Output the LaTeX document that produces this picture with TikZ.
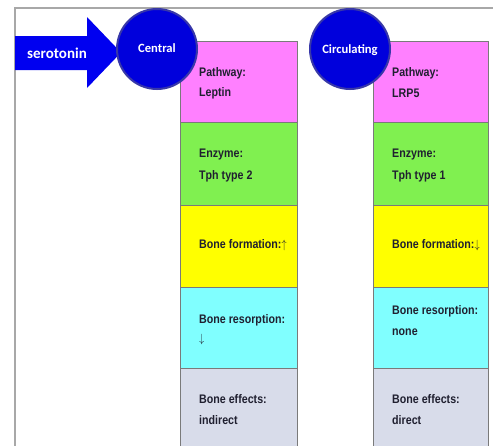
\documentclass[tikz,border=0pt]{standalone}
\usepackage{fontspec}
\usepackage{graphicx}
\setmainfont{Carlito}
\newfontfamily\boxfont{Liberation Sans}
\newcommand{\bxt}[1]{\scalebox{0.86}[1]{#1}}
\definecolor{pinkc}{HTML}{FF80FF}
\definecolor{greenc}{HTML}{80F050}
\definecolor{yellowc}{HTML}{FFFF00}
\definecolor{cyanc}{HTML}{80FFFF}
\definecolor{grayc}{HTML}{D8DCEA}
\definecolor{txt}{HTML}{202030}
\definecolor{cellborder}{HTML}{7A7A7A}
\definecolor{frame}{HTML}{A8A8A8}
\definecolor{arrowblue}{HTML}{0000F0}
\definecolor{circblue}{HTML}{0000DC}
\definecolor{ringblue}{HTML}{3838A8}
\begin{document}
\begin{tikzpicture}[x=1pt,y=-1pt,
  cell/.style={draw=cellborder, line width=0.9pt, inner sep=0pt, anchor=north west},
  lbl/.style={anchor=west, inner sep=0pt, text=txt, font=\boxfont\bfseries\fontsize{12.4}{14}\selectfont},
  blob/.style={circle, fill=circblue, draw=ringblue, line width=2pt, minimum size=80pt, inner sep=0pt},
  blobtext/.style={text=white, inner sep=0pt, font=\bfseries\fontsize{12.6}{14}\selectfont}]
\clip (0,0) rectangle (493,445);
\fill[white] (0,0) rectangle (493,445);
% outer frame
\draw[frame, line width=1.4pt] (15,450) -- (15,8) -- (500,8);
% left column
\node[cell, fill=pinkc,   minimum width=117pt, minimum height=81pt] (lp) at (180,41) {};
\node[cell, fill=greenc,  minimum width=117pt, minimum height=83pt] (lg) at (180,122) {};
\node[cell, fill=yellowc, minimum width=117pt, minimum height=82pt] (ly) at (180,205) {};
\node[cell, fill=cyanc,   minimum width=117pt, minimum height=81pt] (lc) at (180,287) {};
\node[cell, fill=grayc,   minimum width=117pt, minimum height=85pt] (lb) at (180,368) {};
% right column
\node[cell, fill=pinkc,   minimum width=115pt, minimum height=81pt] (rp) at (373,41) {};
\node[cell, fill=greenc,  minimum width=115pt, minimum height=83pt] (rg) at (373,122) {};
\node[cell, fill=yellowc, minimum width=115pt, minimum height=82pt] (ry) at (373,205) {};
\node[cell, fill=cyanc,   minimum width=115pt, minimum height=81pt] (rc) at (373,287) {};
\node[cell, fill=grayc,   minimum width=115pt, minimum height=85pt] (rb) at (373,368) {};
% left texts
\node[lbl] (lp1) at (199,73) {\bxt{Pathway:}};
\node[lbl] (lp2) at (199,93) {\bxt{Leptin}};
\node[lbl] (lg1) at (199,155) {\bxt{Enzyme:}};
\node[lbl] (lg2) at (199,176) {\bxt{Tph type 2}};
\node[lbl] (ly1) at (199,245) {\bxt{Bone formation:$\uparrow$}};
\node[lbl] (lc1) at (199,320) {\bxt{Bone resorption:}};
\node[lbl] (lc2) at (199,339) {\bxt{$\downarrow$}};
\node[lbl] (lb1) at (199,399) {\bxt{Bone effects:}};
\node[lbl] (lb2) at (199,420) {\bxt{indirect}};
% right texts
\node[lbl] (rp1) at (392,73) {\bxt{Pathway:}};
\node[lbl] (rp2) at (392,93) {\bxt{LRP5}};
\node[lbl] (rg1) at (392,155) {\bxt{Enzyme:}};
\node[lbl] (rg2) at (392,176) {\bxt{Tph type 1}};
\node[lbl] (ry1) at (392,245) {\bxt{Bone formation:$\downarrow$}};
\node[lbl] (rc1) at (392,311) {\bxt{Bone resorption:}};
\node[lbl] (rc2) at (392,332) {\bxt{none}};
\node[lbl] (rb1) at (392,399) {\bxt{Bone effects:}};
\node[lbl] (rb2) at (392,420) {\bxt{direct}};
% serotonin arrow
\fill[arrowblue] (15,36) -- (87,36) -- (87,17) -- (121,52.5) -- (87,88) -- (87,70) -- (15,70) -- cycle;
\node[text=white, inner sep=0pt, font=\bfseries\fontsize{15}{17}\selectfont] (sero) at (57,53) {serotonin};
% circles
\node[blob] (central) at (157,49) {};
\node[blobtext] (centralt) at (157,48) {Central};
\node[blob] (circ) at (350,49) {};
\node[blobtext] (circt) at (350,50) {Circulating};
\end{tikzpicture}
\end{document}
